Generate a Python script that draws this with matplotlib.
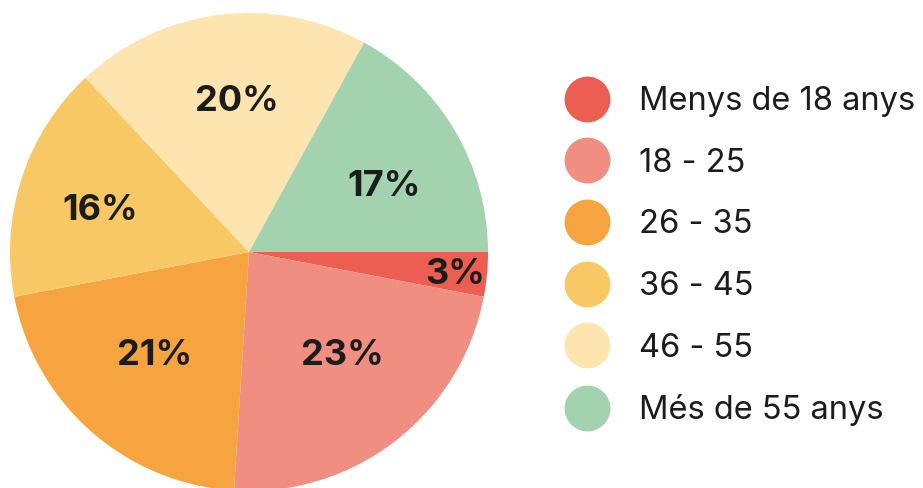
import numpy as np
import matplotlib.pyplot as plt
from matplotlib.lines import Line2D

plt.rcParams['font.family'] = ['Inter', 'DejaVu Sans']

labels = ['Menys de 18 anys', '18 - 25', '26 - 35', '36 - 45', '46 - 55', 'Més de 55 anys']
values = [3, 23, 21, 16, 20, 17]
colors = ['#EB5E51', '#F08E82', '#F5A43F', '#F8C865', '#FEE5B0', '#A3D2AF']
# where each percentage label sits: fraction of radius, and turn from slice middle (deg)
label_dist = [0.866, 0.575, 0.58, 0.65, 0.642, 0.633]
label_turn = [-0.2, 4.8, -1.8, 1.5, -2.7, -3.8]

fig = plt.figure(figsize=(9.23, 4.88), dpi=100)
ax = fig.add_axes([10/923, -3/488, 478/923, 478/488])

wedges, texts = ax.pie(values, colors=colors, startangle=0, counterclock=False,
                       wedgeprops=dict(linewidth=0))
ax.set_xlim(-1, 1)
ax.set_ylim(-1, 1)
ax.set_aspect('equal')
ax.axis('off')

for w, v, d, t in zip(wedges, values, label_dist, label_turn):
    ang = np.deg2rad((w.theta1 + w.theta2) / 2 + t)
    ax.text(d*np.cos(ang), d*np.sin(ang) - 0.01, "{:d}%".format(v), ha='center', va='center',
            fontsize=26, fontweight='bold', color='#1c1c1c')

handles = [Line2D([], [], marker='o', linestyle='none', markersize=33,
                  markerfacecolor=c, markeredgewidth=0) for c in colors]
fig.legend(handles, labels, loc='upper left', bbox_to_anchor=(553/923, 1 - 73/488),
           frameon=False, fontsize=23.5, labelspacing=0.94, handletextpad=0.92,
           handlelength=1.3, borderaxespad=0, labelcolor='#1c1c1c')

fig.savefig('out.png', dpi=100)
